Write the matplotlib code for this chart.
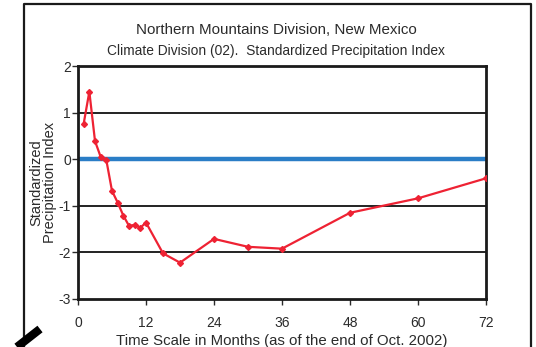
import numpy as np
import matplotlib.pyplot as plt
from matplotlib.lines import Line2D

plt.rcParams['font.family'] = ['Liberation Sans', 'DejaVu Sans']
plt.rcParams['axes.unicode_minus'] = False

# time scale (months) and SPI values
months = [1, 2, 3, 4, 5, 6, 7, 8, 9, 10, 11, 12, 15, 18, 24, 30, 36, 48, 60, 72]
spi = [0.76, 1.45, 0.39, 0.05, -0.02, -0.68, -0.93, -1.21, -1.43, -1.41,
       -1.47, -1.36, -2.02, -2.22, -1.71, -1.88, -1.92, -1.15, -0.84, -0.41]
xticks = [0, 12, 24, 36, 48, 60, 72]
yticks = [-3, -2, -1, 0, 1, 2]

text_col = '#2b2b2b'

fig = plt.figure(figsize=(5.36, 3.47), dpi=100)
ax = fig.add_axes([78 / 536, 1 - 299 / 347, (486 - 78) / 536, (299 - 66) / 347])

for v in [-2, -1, 1]:
    ax.axhline(v, color='#111111', lw=1.3, zorder=1)
ax.axhline(0, color='#2a7dc6', lw=3.2, zorder=2)
ax.plot(months, spi, color='#ee2233', lw=1.6, marker='D', ms=3, zorder=3)

ax.set_xlim(0, 72)
ax.set_ylim(-3, 2)
ax.set_xticks(xticks)
ax.set_yticks(yticks)
ax.tick_params(axis='x', direction='out', length=4, width=1, pad=8,
               labelsize=10, colors=text_col)
ax.tick_params(axis='y', direction='out', length=4, width=1, pad=1,
               labelsize=10, colors=text_col)
for s in ax.spines.values():
    s.set_linewidth(2)
    s.set_color('#1a1a1a')

ax.set_xlabel('Time Scale in Months (as of the end of Oct. 2002)',
              fontsize=10.8, color=text_col, labelpad=3)
ax.set_ylabel('Standardized\nPrecipitation Index', fontsize=10.5,
              color=text_col, labelpad=1, linespacing=1.0)

fig.text(276 / 536, 1 - 30 / 347, 'Northern Mountains Division, New Mexico',
         ha='center', va='center', fontsize=10.9, color=text_col)
fig.text(276 / 536, 1 - 51 / 347,
         'Climate Division (02).  Standardized Precipitation Index',
         ha='center', va='center', fontsize=9.9, color=text_col)

# outer frame of the figure panel
frame_x = [24 / 536, 24 / 536, 531 / 536, 531 / 536]
frame_y = [0, 1 - 4 / 347, 1 - 4 / 347, 0]
fig.add_artist(Line2D(frame_x, frame_y, color='#1a1a1a', lw=1.6))
# pointer stroke at lower left
fig.add_artist(Line2D([17 / 536, 40 / 536], [0, 1 - 329 / 347],
                      color='black', lw=6, solid_capstyle='butt'))

fig.savefig('out.png', dpi=100)
